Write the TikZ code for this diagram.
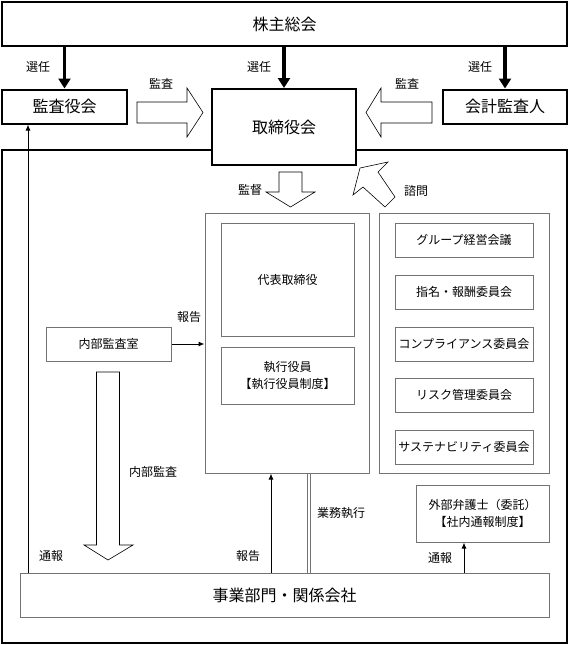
\documentclass[tikz,border=0pt]{standalone}
\usepackage{fontspec}
\setmainfont{Noto Sans CJK JP}
\usetikzlibrary{arrows.meta}
\tikzset{>=latex}
\tikzset{
  bigbox/.style={draw=black, line width=2pt, fill=white, inner sep=0pt, font=\fontsize{16}{18}\selectfont},
  subbox/.style={draw=black!55, line width=1pt, fill=white, inner sep=0pt, align=center, font=\fontsize{12}{17}\selectfont},
  lbl/.style={inner sep=1pt, font=\fontsize{12}{14}\selectfont},
  elect/.style={line width=3.5pt, -{Triangle[length=10pt,width=12pt]}},
  report/.style={line width=1pt, -{Latex[length=6pt,width=5pt]}},
  hollow/.style={draw=black, line width=0.6pt, fill=white},
}

\begin{document}
\begin{tikzpicture}[x=1pt, y=-1pt]
\useasboundingbox (0,0) rectangle (569,645);

% Cadre extérieur / outer frame
\draw[line width=2pt] (2,150) rectangle (567,643);

% Organes du haut / top bodies
\node[bigbox, minimum width=565, minimum height=44] (agm) at (284.5,24) {株主総会};
\node[bigbox, minimum width=125, minimum height=34] (kansa) at (64.5,106.5) {監査役会};
\node[bigbox, minimum width=144, minimum height=76] (board) at (284,127) {取締役会};
\node[bigbox, minimum width=124, minimum height=34] (auditor) at (505,106.5) {会計監査人};

\draw[elect] (agm.south -| kansa) -- (kansa.north);
\draw[elect] (agm.south -| board) -- (board.north);
\draw[elect] (agm.south -| auditor) -- (auditor.north);
\node[lbl] (sen1) at (38,67) {選任};
\node[lbl] (sen2) at (259,67) {選任};
\node[lbl] (sen3) at (480,67) {選任};

% Flèches creuses / hollow arrows
\draw[hollow] (137,102) -- (187,102) -- (187,88) -- (203,112.5) -- (187,137) -- (187,123) -- (137,123) -- cycle;
\draw[hollow] (432,102) -- (381,102) -- (381,88) -- (366,112.5) -- (381,137) -- (381,123) -- (432,123) -- cycle;
\node[lbl] (kan1) at (161,84) {監査};
\node[lbl] (kan2) at (407,84) {監査};

\draw[hollow] (279,172) -- (279,192) -- (266,192) -- (290.5,207) -- (315,192) -- (302,192) -- (302,172) -- cycle;
\node[lbl] (kantoku) at (250,190) {監督};
\draw[hollow] (360,168) -- (353,195) -- (363,187) -- (385,207) -- (395,197) -- (378,172) -- (388,162) -- cycle;
\node[lbl] (shimon) at (416,191) {諮問};

% Exécution / execution side
\node[subbox, minimum width=164, minimum height=260] (exec) at (287,343) {};
\node[subbox, minimum width=133, minimum height=113] (ceo) at (287.5,279.5) {代表取締役};
\node[subbox, minimum width=133, minimum height=57] (officer) at (287.5,375.5) {執行役員\\【執行役員制度】};

% Comités / committees
\node[subbox, minimum width=170, minimum height=260] (comm) at (464,343) {};
\foreach \name/\txt/\y in {grp/グループ経営会議/240, nom/指名・報酬委員会/292, comp/コンプライアンス委員会/344, risk/リスク管理委員会/395, sus/サステナビリティ委員会/447}
  \node[subbox, minimum width=138, minimum height=34] (\name) at (464,\y) {\txt};

\node[subbox, minimum width=133, minimum height=57] (lawyer) at (482.5,513.5) {外部弁護士（委託）\\【社内通報制度】};

% Audit interne / internal audit
\node[subbox, minimum width=125, minimum height=34] (ia) at (108.5,344) {内部監査室};
\draw[report] (ia.east) -- (ia.east -| exec.west);
\node[lbl] (hou1) at (189,317) {報告};
\draw[hollow] (96.5,372) -- (96.5,545) -- (84,545) -- (108,560) -- (133,545) -- (119.5,545) -- (119.5,372) -- cycle;
\node[lbl] (naibu) at (153,472) {内部監査};

% Divisions / business divisions
\node[subbox, minimum width=529, minimum height=44, font=\fontsize{16}{18}\selectfont] (biz) at (284.5,595) {事業部門・関係会社};

\coordinate (tsuL) at (28,0);
\coordinate (houB) at (271,0);
\coordinate (tsuR) at (464,0);
\draw[report] (biz.north -| tsuL) -- (kansa.south -| tsuL);
\draw[report] (biz.north -| houB) -- (exec.south -| houB);
\draw[report] (biz.north -| tsuR) -- (lawyer.south -| tsuR);
\draw[black!55, line width=1pt] (307.3,0 |- exec.south) -- (307.3,0 |- biz.north);
\draw[black!55, line width=1pt] (310.7,0 |- exec.south) -- (310.7,0 |- biz.north);

\node[lbl] (tsu1) at (51,556) {通報};
\node[lbl] (hou2) at (248,556) {報告};
\node[lbl] (gyomu) at (341,513) {業務執行};
\node[lbl] (tsu2) at (440,558) {通報};

\end{tikzpicture}
\end{document}
